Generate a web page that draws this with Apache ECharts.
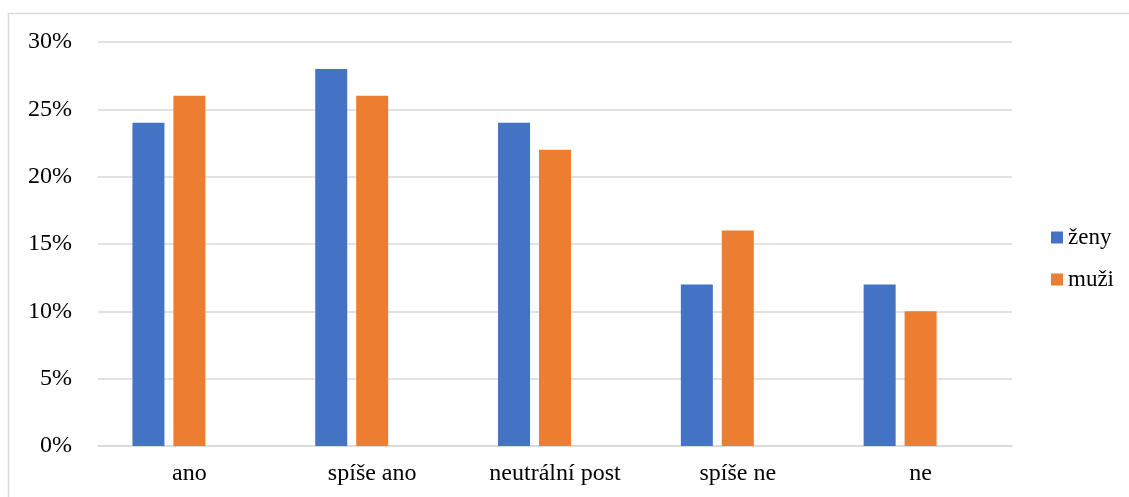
<!DOCTYPE html>
<html>
<head>
<meta charset="utf-8">
<script src="https://cdn.jsdelivr.net/npm/echarts@6/dist/echarts.min.js"></script>
<style>
  html, body { margin: 0; padding: 0; background: #fff; }
  #chart { width: 1129px; height: 497px; }
</style>
</head>
<body>
<div id="chart"></div>
<script>
// Odpovědi podle pohlaví (v procentech)
const categories = ['ano', 'spíše ano', 'neutrální post', 'spíše ne', 'ne'];
const zeny = [24, 28, 24, 12, 12];
const muzi = [26, 26, 22, 16, 10];
// prázdná třetí řada – drží rozestup sloupců v kategorii
const prazdna = [null, null, null, null, null];

const font = '"Liberation Serif", "Times New Roman", serif';

const chart = echarts.init(document.getElementById('chart'));
chart.setOption({
  animation: false,
  backgroundColor: '#fff',
  graphic: [{
    type: 'rect',
    shape: { x: 8.5, y: 13.5, width: 1200, height: 600 },
    style: { fill: 'none', stroke: '#d9d9d9', lineWidth: 1.5 },
    silent: true
  }],
  grid: { left: 98, right: 117, top: 42, bottom: 51 },
  legend: {
    orient: 'vertical',
    left: 1051,
    top: 226,
    padding: 0,
    itemWidth: 12,
    itemHeight: 12,
    itemGap: 19,
    icon: 'rect',
    data: ['ženy', 'muži'],
    textStyle: { fontFamily: font, fontSize: 23, lineHeight: 23, color: '#000' }
  },
  xAxis: {
    type: 'category',
    data: categories,
    axisTick: { show: false },
    axisLine: { lineStyle: { color: '#d9d9d9', width: 1.5 } },
    axisLabel: { fontFamily: font, fontSize: 24, color: '#000', margin: 16 }
  },
  yAxis: {
    type: 'value',
    min: 0,
    max: 30,
    interval: 5,
    axisLine: { show: false },
    axisTick: { show: false },
    splitLine: { lineStyle: { color: '#d9d9d9', width: 1.5 } },
    axisLabel: { fontFamily: font, fontSize: 24, color: '#000', margin: 26, formatter: '{value}%' }
  },
  series: [
    { name: 'ženy', type: 'bar', data: zeny, barWidth: 32, barGap: '28%', itemStyle: { color: '#4472C4' } },
    { name: 'muži', type: 'bar', data: muzi, barWidth: 32, barGap: '28%', itemStyle: { color: '#ED7D31' } },
    { name: '', type: 'bar', data: prazdna, barWidth: 32, barGap: '28%' }
  ]
});
</script>
</body>
</html>
